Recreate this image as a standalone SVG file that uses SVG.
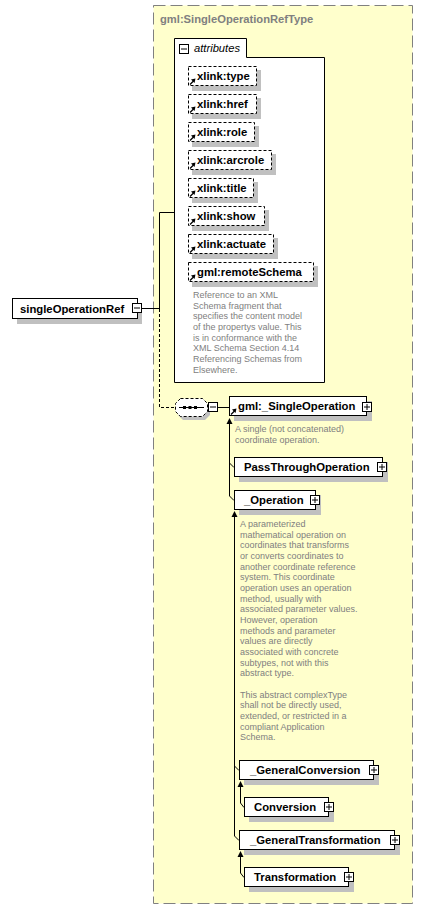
<svg xmlns="http://www.w3.org/2000/svg" xmlns:xlink="http://www.w3.org/1999/xlink" width="423" height="909" viewBox="0 0 423 909">
<style>
.box{fill:#fff;stroke:#000;stroke-width:1}
.dbox{fill:#fff;stroke:#000;stroke-width:1;stroke-dasharray:3,2}
.sh{fill:#c0c0c0}
.lbl{font-family:"Liberation Sans",Arial,sans-serif;font-weight:bold;font-size:11.3px;fill:#000}
.desc{font-family:"Liberation Sans",Arial,sans-serif;font-size:9px;fill:#808080}
.title{font-family:"Liberation Sans",Arial,sans-serif;font-weight:bold;font-size:11.2px;fill:#808080}
.conn{fill:none;stroke:#000;stroke-width:1}
.dconn{fill:none;stroke:#000;stroke-width:1;stroke-dasharray:3,2}
</style>
<defs>
<g id="minus"><rect x="0.5" y="0.5" width="9" height="9" fill="#fff" stroke="#000"/><path d="M2,5H8" stroke="#000"/></g>
<g id="plus"><rect x="0.5" y="0.5" width="9" height="9" fill="#fff" stroke="#000"/><path d="M2,5H8M5,2V8" stroke="#000"/></g>
<g id="ref"><path d="M2,-1.5L5.5,-5" stroke="#000" stroke-width="1.3"/><path d="M7.5,-7.5L3,-6.5L6.5,-3Z" fill="#000"/></g>
</defs>

<g id="type-box">
<rect x="153.5" y="5.5" width="259" height="898" fill="#ffffcc" stroke="#808080" stroke-dasharray="12,5"/>
<text class="title" x="160" y="23">gml:SingleOperationRefType</text>
</g>

<g id="attributes">
<path d="M174.5,382.5V38.5H246.5V57.5H324.5V382.5Z" class="box"/>
<use xlink:href="#minus" href="#minus" x="179" y="44"/>
<text x="194" y="52" style="font-family:'Liberation Sans',Arial,sans-serif;font-style:italic;font-size:11.2px;fill:#000">attributes</text>
</g>

<g id="attr-type"><rect class="sh" x="192" y="70" width="69" height="21"/><rect class="dbox" x="188.5" y="66.5" width="68" height="19"/><use xlink:href="#ref" href="#ref" x="188" y="86"/><text class="lbl" x="197" y="80">xlink:type</text></g>
<g id="attr-href"><rect class="sh" x="192" y="98" width="69" height="21"/><rect class="dbox" x="188.5" y="94.5" width="68" height="19"/><use xlink:href="#ref" href="#ref" x="188" y="114"/><text class="lbl" x="197" y="108">xlink:href</text></g>
<g id="attr-role"><rect class="sh" x="192" y="126" width="67" height="21"/><rect class="dbox" x="188.5" y="122.5" width="66" height="19"/><use xlink:href="#ref" href="#ref" x="188" y="142"/><text class="lbl" x="197" y="136">xlink:role</text></g>
<g id="attr-arcrole"><rect class="sh" x="192" y="154" width="84" height="21"/><rect class="dbox" x="188.5" y="150.5" width="83" height="19"/><use xlink:href="#ref" href="#ref" x="188" y="170"/><text class="lbl" x="197" y="164">xlink:arcrole</text></g>
<g id="attr-title"><rect class="sh" x="192" y="182" width="66" height="21"/><rect class="dbox" x="188.5" y="178.5" width="65" height="19"/><use xlink:href="#ref" href="#ref" x="188" y="198"/><text class="lbl" x="197" y="192">xlink:title</text></g>
<g id="attr-show"><rect class="sh" x="192" y="210" width="77" height="21"/><rect class="dbox" x="188.5" y="206.5" width="76" height="19"/><use xlink:href="#ref" href="#ref" x="188" y="226"/><text class="lbl" x="197" y="220">xlink:show</text></g>
<g id="attr-actuate"><rect class="sh" x="192" y="238" width="86" height="21"/><rect class="dbox" x="188.5" y="234.5" width="85" height="19"/><use xlink:href="#ref" href="#ref" x="188" y="254"/><text class="lbl" x="197" y="248">xlink:actuate</text></g>
<g id="attr-remoteSchema"><rect class="sh" x="192" y="266" width="126" height="21"/><rect class="dbox" x="188.5" y="262.5" width="125" height="19"/><use xlink:href="#ref" href="#ref" x="188" y="282"/><text class="lbl" x="197" y="276">gml:remoteSchema</text>
<text class="desc" x="193" y="298">Reference to an XML</text>
<text class="desc" x="193" y="308.7">Schema fragment that</text>
<text class="desc" x="193" y="319.3">specifies the content model</text>
<text class="desc" x="193" y="330">of the propertys value. This</text>
<text class="desc" x="193" y="340.7">is in conformance with the</text>
<text class="desc" x="193" y="351.3">XML Schema Section 4.14</text>
<text class="desc" x="193" y="362">Referencing Schemas from</text>
<text class="desc" x="193" y="372.7">Elsewhere.</text>
</g>

<g id="connectors">
<path class="conn" d="M142,308.5H159.5M159.5,309V212.5H174"/>
<path class="dconn" d="M159.5,309V407.5H175"/>
<path class="conn" d="M218,407.5H229"/>
<path class="conn" d="M229.5,424V463L234,467.5M229.5,463V496L234,500.5"/>
<path d="M229.5,418L226.5,424H232.5Z" fill="#000"/>
<path class="conn" d="M234.5,517V766L239,770.5M234.5,766V836L239,840.5"/>
<path d="M234.5,511L231.5,517H237.5Z" fill="#000"/>
<path class="conn" d="M240.5,787V803L244,807.5"/>
<path d="M240.5,781L237.5,787H243.5Z" fill="#000"/>
<path class="conn" d="M240.5,857V873L244,877.5"/>
<path d="M240.5,851L237.5,857H243.5Z" fill="#000"/>
</g>

<g id="singleOperationRef">
<rect class="sh" x="17" y="303" width="125" height="21"/>
<rect class="box" x="12.5" y="298.5" width="125" height="20"/>
<text class="lbl" x="20" y="312.5">singleOperationRef</text>
<use xlink:href="#minus" href="#minus" x="132" y="303"/>
</g>

<g id="sequence">
<path class="sh" d="M183,402H205L210,407V415L205,420H183L178,415V407Z"/>
<path class="dbox" d="M180.5,398.5H202.5L207.5,403.5V411.5L202.5,416.5H180.5L175.5,411.5V403.5Z"/>
<path d="M179,407.5H204" stroke="#000"/>
<rect x="183" y="406" width="3" height="3" fill="#000"/>
<rect x="188.5" y="406" width="3" height="3" fill="#000"/>
<rect x="194" y="406" width="3" height="3" fill="#000"/>
<use xlink:href="#minus" href="#minus" x="208" y="402"/>
</g>

<g id="gml_SingleOperation">
<rect class="sh" x="234" y="401" width="138" height="20"/>
<rect class="box" x="229.5" y="396.5" width="137" height="19"/>
<use xlink:href="#ref" href="#ref" x="229" y="416"/>
<text class="lbl" x="238" y="410">gml:_SingleOperation</text>
<use xlink:href="#plus" href="#plus" x="362" y="402"/>
<text class="desc" x="235" y="432">A single (not concatenated)</text>
<text class="desc" x="235" y="442.7">coordinate operation.</text>
</g>

<g id="PassThroughOperation">
<rect class="sh" x="239" y="462" width="149" height="20"/>
<rect class="box" x="234.5" y="457.5" width="148" height="19"/>
<text class="lbl" x="244" y="471">PassThroughOperation</text>
<use xlink:href="#plus" href="#plus" x="377" y="462"/>
</g>

<g id="_Operation">
<rect class="sh" x="239" y="495" width="82" height="20"/>
<rect class="box" x="234.5" y="490.5" width="81" height="19"/>
<text class="lbl" x="244" y="504">_Operation</text>
<use xlink:href="#plus" href="#plus" x="310" y="495"/>
<text class="desc" x="240" y="527">A parameterized</text>
<text class="desc" x="240" y="537.7">mathematical operation on</text>
<text class="desc" x="240" y="548.3">coordinates that transforms</text>
<text class="desc" x="240" y="559">or converts coordinates to</text>
<text class="desc" x="240" y="569.7">another coordinate reference</text>
<text class="desc" x="240" y="580.3">system. This coordinate</text>
<text class="desc" x="240" y="591">operation uses an operation</text>
<text class="desc" x="240" y="601.7">method, usually with</text>
<text class="desc" x="240" y="612.3">associated parameter values.</text>
<text class="desc" x="240" y="623">However, operation</text>
<text class="desc" x="240" y="633.7">methods and parameter</text>
<text class="desc" x="240" y="644.3">values are directly</text>
<text class="desc" x="240" y="655">associated with concrete</text>
<text class="desc" x="240" y="665.7">subtypes, not with this</text>
<text class="desc" x="240" y="676.3">abstract type.</text>
<text class="desc" x="240" y="697.7">This abstract complexType</text>
<text class="desc" x="240" y="708.3">shall not be directly used,</text>
<text class="desc" x="240" y="719">extended, or restricted in a</text>
<text class="desc" x="240" y="729.7">compliant Application</text>
<text class="desc" x="240" y="740.3">Schema.</text>
</g>

<g id="_GeneralConversion">
<rect class="sh" x="244" y="765" width="135" height="20"/>
<rect class="box" x="239.5" y="760.5" width="134" height="19"/>
<text class="lbl" x="250" y="774">_GeneralConversion</text>
<use xlink:href="#plus" href="#plus" x="369" y="765"/>
</g>

<g id="Conversion">
<rect class="sh" x="249" y="802" width="85" height="20"/>
<rect class="box" x="244.5" y="797.5" width="84" height="19"/>
<text class="lbl" x="254" y="811">Conversion</text>
<use xlink:href="#plus" href="#plus" x="324" y="802"/>
</g>

<g id="_GeneralTransformation">
<rect class="sh" x="244" y="835" width="156" height="20"/>
<rect class="box" x="239.5" y="830.5" width="155" height="19"/>
<text class="lbl" x="250" y="844">_GeneralTransformation</text>
<use xlink:href="#plus" href="#plus" x="390" y="835"/>
</g>

<g id="Transformation">
<rect class="sh" x="249" y="872" width="105" height="20"/>
<rect class="box" x="244.5" y="867.5" width="104" height="19"/>
<text class="lbl" x="254" y="881">Transformation</text>
<use xlink:href="#plus" href="#plus" x="344" y="872"/>
</g>
</svg>
